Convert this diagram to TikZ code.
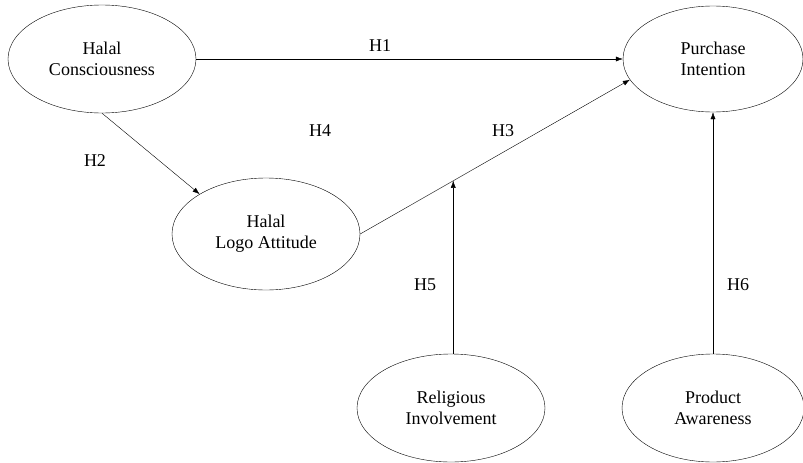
\documentclass[tikz,border=0pt]{standalone}
\usepackage{fontspec}
\setmainfont{Liberation Serif}
\usetikzlibrary{arrows.meta,positioning,calc,shapes.geometric}

\tikzset{
  construct/.style={draw, ellipse, thin, minimum width=188pt, minimum height=108pt,
    inner sep=0pt, align=center, font=\fontsize{18}{21}\selectfont},
  hyp/.style={font=\fontsize{18}{21}\selectfont, inner sep=1pt},
  path/.style={-{Latex[length=7pt,width=5pt]}, thin}
}

\begin{document}
\begin{tikzpicture}[x=1pt, y=-1pt]
        \useasboundingbox (0,0) rectangle (803,463);
        \node[construct] (hc) at (102,59) {Halal\\Consciousness};
        \node[construct, minimum width=180pt, minimum height=106pt] (pi) at (713,59) {Purchase\\Intention};
        \node[construct, minimum height=112pt] (hla) at (266,234) {Halal\\Logo Attitude};
        \node[construct] (ri) at (451,408) {Religious\\Involvement};
        \node[construct, minimum width=182pt] (pa) at (713,408) {Product\\Awareness};
        \draw[path] (hc.east) -- (pi.west);
        \draw[path] (hc.south) -- (hla.149);
        \draw[path] (hla.east) -- coordinate[pos=0.345] (mod) (pi.194);
        \draw[path] (mod |- ri.north) -- (mod);
        \draw[path] (pa) -- (pi);
        \node[hyp] (h1) at (380,46) {H1};
        \node[hyp] (h2) at (95,161) {H2};
        \node[hyp] (h3) at (503,131) {H3};
        \node[hyp] (h4) at (320,131) {H4};
        \node[hyp] (h5) at (425,285) {H5};
        \node[hyp] (h6) at (738,285) {H6};
      \end{tikzpicture}
\end{document}
